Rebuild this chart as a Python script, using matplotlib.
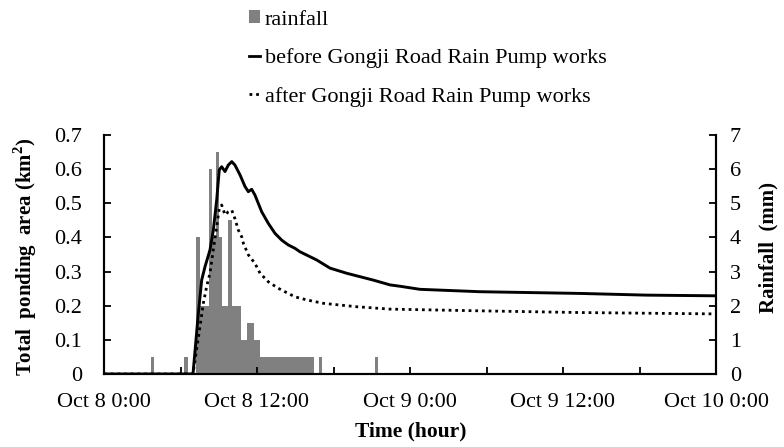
import matplotlib
matplotlib.use("Agg")
import matplotlib.pyplot as plt
from matplotlib.lines import Line2D
from matplotlib.patches import Patch

plt.rcParams['font.family'] = ['Liberation Serif', 'DejaVu Serif']
plt.rcParams['mathtext.fontset'] = 'custom'
plt.rcParams['mathtext.rm'] = 'Liberation Serif'
plt.rcParams['mathtext.bf'] = 'Liberation Serif:bold'

# ---- data (hours since Oct 8 0:00) ----
before_h = [0, 6.98, 7.40, 7.66, 7.92, 8.31, 8.57, 8.84, 9.04, 9.23, 9.49, 9.75, 10.02,
            10.27, 10.67, 11.06, 11.32, 11.58, 11.84, 12.37, 12.89, 13.41, 13.94, 14.45,
            14.98, 15.37, 16.68, 17.73, 19.04, 21.12, 22.43, 23.22, 24.78, 29.49, 37.33,
            42.56, 48]
before_area = [0, 0, 0.178, 0.275, 0.314, 0.363, 0.42, 0.51, 0.598, 0.607, 0.593, 0.612,
               0.622, 0.612, 0.583, 0.549, 0.534, 0.541, 0.524, 0.475, 0.441, 0.412, 0.392,
               0.378, 0.368, 0.358, 0.334, 0.31, 0.295, 0.275, 0.261, 0.257, 0.248, 0.241,
               0.236, 0.231, 0.229]

after_h = [0, 6.98, 7.53, 7.79, 8.05, 8.31, 8.57, 8.84, 9.04, 9.23, 9.49, 9.75, 10.02,
           10.27, 10.53, 10.80, 10.93, 11.32, 11.84, 12.24, 12.89, 13.67, 14.45, 14.98,
           15.90, 17.20, 19.82, 22.43, 29.49, 37.33, 48]
after_area = [0, 0, 0.139, 0.207, 0.256, 0.295, 0.363, 0.431, 0.485, 0.495, 0.466, 0.475,
              0.48, 0.455, 0.422, 0.402, 0.383, 0.349, 0.324, 0.295, 0.27, 0.251, 0.236,
              0.226, 0.217, 0.207, 0.197, 0.19, 0.185, 0.18, 0.176]

rain_h = [3.65, 6.3, 7.25, 7.5, 7.75, 8.0, 8.25, 8.5, 8.75, 9.0, 9.25, 9.5, 9.75, 10.0,
          10.25, 10.5, 10.75, 11.0, 11.25, 11.5, 11.75, 12.0, 12.25, 12.5, 12.75, 13.0,
          13.25, 13.5, 13.75, 14.0, 14.25, 14.5, 14.75, 15.0, 15.25, 15.5, 15.75, 16.0,
          16.25, 16.85, 21.25]
rain_mm = [0.5, 0.5, 4.0, 2.0, 2.0, 2.0, 6.0, 4.0, 6.5, 4.0, 2.0, 2.0, 4.5, 2.0,
           2.0, 2.0, 1.0, 1.0, 1.5, 1.5, 1.0, 1.0, 0.5, 0.5, 0.5, 0.5,
           0.5, 0.5, 0.5, 0.5, 0.5, 0.5, 0.5, 0.5, 0.5, 0.5, 0.5, 0.5,
           0.5, 0.5, 0.5]

xtick_h = [0, 12, 24, 36, 48]
xtick_labels = ['Oct 8 0:00', 'Oct 8 12:00', 'Oct 9 0:00', 'Oct 9 12:00', 'Oct 10 0:00']
ytick_left = [0, 0.1, 0.2, 0.3, 0.4, 0.5, 0.6, 0.7]
ytick_left_labels = ['0', '0.1', '0.2', '0.3', '0.4', '0.5', '0.6', '0.7']
ytick_right = [0, 1, 2, 3, 4, 5, 6, 7]

# ---- figure ----
fig = plt.figure(figsize=(7.84, 4.47), dpi=100)
ax = fig.add_axes([104/784, 1-374/447, 612/784, 239/447])
ax2 = ax.twinx()

ax2.bar(rain_h, rain_mm, width=0.25, align='edge', color='#808080', linewidth=0)
ax2.set_ylim(0, 7)
ax2.set_yticks(ytick_right)

ax.plot(before_h, before_area, color='black', lw=2.1, solid_joinstyle='round')
ax.plot(after_h, after_area, color='black', lw=2.0, linestyle=(0, (1, 1.4)),
        dash_capstyle='butt')
ax.set_zorder(ax2.get_zorder() + 1)
ax.patch.set_visible(False)

ax.set_xlim(0, 48)
ax.set_ylim(0, 0.7)
ax.set_xticks(xtick_h)
ax.set_xticklabels(xtick_labels)
ax.set_xticks([6, 18, 30, 42], minor=True)
ax.set_yticks(ytick_left)
ax.set_yticklabels(ytick_left_labels)

for a in (ax, ax2):
    for s in a.spines.values():
        s.set_linewidth(1.5)
    a.spines['top'].set_visible(False)

ax.tick_params(axis='x', which='both', direction='in', length=5, width=1.3,
               labelsize=16, pad=14)
ax.tick_params(axis='y', direction='in', length=5, width=1.3, labelsize=16, pad=16)
ax2.tick_params(axis='y', direction='in', length=5, width=1.3, labelsize=16, pad=10)

ax.set_xlabel('Time (hour)', fontsize=15.5, fontweight='bold')
ax.set_ylabel('Total  ponding  area (km$^\\mathbf{2}$)', fontsize=15, fontweight='bold')
ax2.set_ylabel('Rainfall  (mm)', fontsize=15, fontweight='bold')
ax.xaxis.set_label_coords((411-104)/612, -(431-374)/239)
ax.xaxis.label.set_va('center')
ax.yaxis.set_label_coords(-0.129, 0.49)
ax.yaxis.label.set_va('center')
ax2.yaxis.set_label_coords(1.085, 0.53)
ax2.yaxis.label.set_va('center')

handles = [Patch(facecolor='#808080', edgecolor='none'),
           Line2D([], [], color='black', lw=2.0),
           Line2D([], [], color='black', lw=2.0, linestyle=(0, (1, 1.4)))]
labels = ['rainfall', 'before Gongji Road Rain Pump works', 'after Gongji Road Rain Pump works']
fig.legend(handles, labels, loc='upper left', bbox_to_anchor=(249/784, 1-10/447),
           frameon=False, fontsize=16, handlelength=0.5, handleheight=0.55,
           handletextpad=0.2, labelspacing=0.84, borderpad=0, borderaxespad=0)

fig.savefig('out.png', dpi=100)
